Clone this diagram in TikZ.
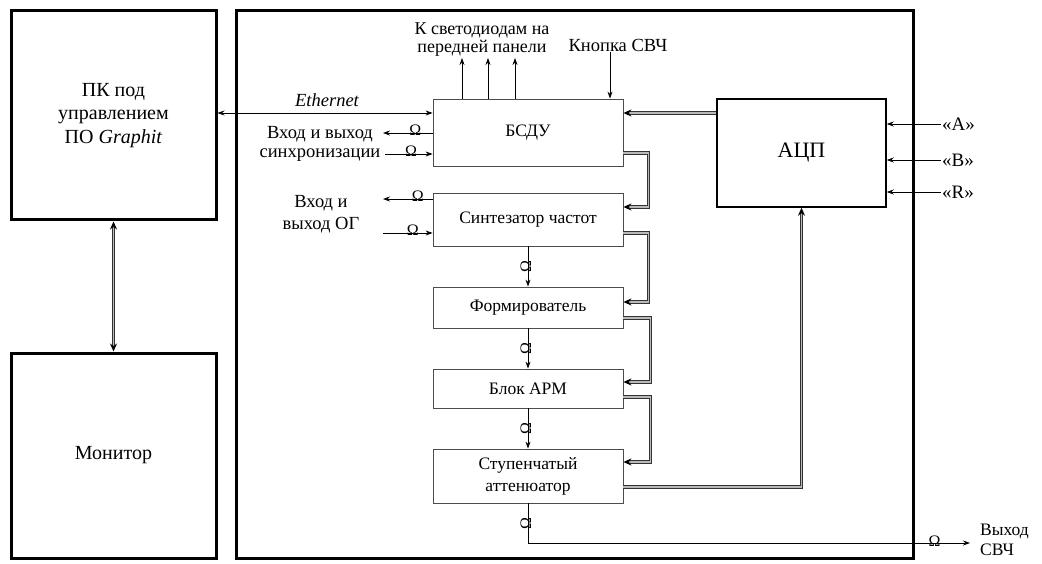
\documentclass[tikz,border=0pt]{standalone}
\usepackage{fontspec}
\setmainfont{Liberation Serif}
\usetikzlibrary{arrows.meta, decorations.markings}

\tikzset{
    blk/.style={draw=black!70, line width=0.8pt, minimum width=190pt, font=\fontsize{17.5}{22}\selectfont, align=center},
    heavy/.style={draw, line width=3pt, font=\fontsize{20}{23.5}\selectfont, align=center},
    lbl/.style={font=\fontsize{18.5}{19}\selectfont, align=center, inner sep=1pt},
    sig/.style={line width=0.8pt},
    bus/.style={draw=black!80, double=gray!55, double distance=1.8pt, line width=0.7pt},
    busend/.style={bus, shorten >=4pt, postaction={decorate, decoration={markings,
        mark=at position 1 with {\arrow[black]{Stealth[length=8pt,width=7pt]}}}}},
    busboth/.style={bus, shorten >=4pt, shorten <=4pt, postaction={decorate, decoration={markings,
        mark=at position 0 with {\arrowreversed[black]{Stealth[length=8pt,width=7pt]}},
        mark=at position 1 with {\arrow[black]{Stealth[length=8pt,width=7pt]}}}}},
    om/.style={font=\fontsize{16}{16}\selectfont, inner sep=0pt, anchor=base, yshift=-3pt},
    omv/.style={font=\fontsize{16}{16}\selectfont, inner sep=0pt, anchor=base, rotate=90, yshift=-3pt}
}

\begin{document}
\begin{tikzpicture}[x=1pt, y=-1pt, >={Stealth[length=7pt,width=5pt]}]
    \useasboundingbox (0,0) rectangle (1042,564);

    % PC, monitor and the device frame
    \node[heavy, minimum width=205pt, minimum height=209pt] (pc) at (113.5,115.5) {ПК под\\управлением\\ПО \textit{Graphit}};
    \node[heavy, minimum width=205pt, minimum height=205pt] (mon) at (113.5,455.5) {Монитор};
    \node[draw, line width=3pt, minimum width=677pt, minimum height=547pt] (dev) at (574.5,284.5) {};

    % Blocks
    \node[blk, minimum height=67pt] (bsdu) at (528,132.5) {БСДУ};
    \node[blk, minimum height=53pt] (synth) at (528,219.5) {Синтезатор частот};
    \node[blk, minimum height=41pt] (form) at (528,307.5) {Формирователь};
    \node[blk, minimum height=39pt] (apm) at (528,388.5) {Блок АРМ};
    \node[blk, minimum height=54pt] (att) at (528,476) {Ступенчатый\\аттенюатор};
    \node[draw, line width=1.5pt, minimum width=169pt, minimum height=108pt, font=\fontsize{22}{24}\selectfont] (adc) at (801.5,153) {АЦП};

    % Labels
    \node[lbl, font=\fontsize{18.5}{19}\selectfont\itshape] (eth) at (327,100) {Ethernet};
    \node[lbl] (syncl) at (320,144) {Вход и выход\\синхронизации};
    \node[lbl] (ogl) at (321,214) {Вход и\\[3pt]выход ОГ};
    \node[lbl, font=\fontsize{18}{18}\selectfont] (led) at (482,40) {К светодиодам на\\передней панели};
    \node[lbl] (btn) at (618,45) {Кнопка СВЧ};
    \node[lbl, font=\fontsize{17.5}{20}\selectfont, align=left, anchor=west] (outl) at (979,540) {Выход\\СВЧ};

    % Free ends
    \coordinate (syncout) at (383,133);
    \coordinate (syncin) at (385,154);
    \coordinate (ogout) at (383,199);
    \coordinate (ogin) at (383,233);
    \coordinate (rfout) at (970,543);

    % PC links
    \draw[busboth] (pc.south) -- (mon.north);
    \draw[sig, <->] (pc.east |- 0,113) -- (bsdu.west |- 0,113);

    % Sync and reference signals
    \draw[sig, ->] (bsdu.west |- syncout) -- node[om, pos=0.35] {Ω} (syncout);
    \draw[sig, ->] (syncin) -- node[om, pos=0.55] {Ω} (bsdu.west |- syncin);
    \draw[sig, ->] (synth.west |- ogout) -- node[om, pos=0.3] {Ω} (ogout);
    \draw[sig, ->] (ogin) -- node[om, pos=0.6] {Ω} (synth.west |- ogin);

    % LEDs and button
    \foreach \x in {462,488,515} {
        \draw[sig, ->] (bsdu.north -| \x,0) -- (led.south -| \x,0);
    }
    \draw[sig, ->] (btn.south -| 610,0) -- (bsdu.north -| 610,0);

    % Control bus
    \draw[busend] (adc.west |- 0,113) -- (bsdu.east |- 0,113);
    \draw[busend] (bsdu.east |- 0,153) -- ++(25,0) |- (synth.east |- 0,207);
    \draw[busend] (synth.east |- 0,233) -- ++(25,0) |- (form.east |- 0,302);
    \draw[busend] (form.east |- 0,318) -- ++(27,0) |- (apm.east |- 0,382);
    \draw[busend] (apm.east |- 0,397) -- ++(27,0) |- (att.east |- 0,462);
    \draw[busend] (att.east |- 0,487) -| (adc.south);

    % RF chain
    \draw[sig, ->] (synth.south) -- node[omv] {Ω} (form.north);
    \draw[sig, ->] (form.south) -- node[omv] {Ω} (apm.north);
    \draw[sig, ->] (apm.south) -- node[omv] {Ω} (att.north);
    \draw[sig, ->] (att.south) |- node[omv, pos=0.25] {Ω} node[om, pos=0.96] {Ω} (rfout);

    % ADC inputs
    \foreach \n/\y/\txt in {a/124/«A», b/160/«B», r/192/«R»} {
        \node[lbl, font=\fontsize{19}{19}\selectfont, anchor=west] (in\n) at (941,\y) {\txt};
        \draw[sig, ->] (in\n.west) -- (adc.east |- in\n.west);
    }
\end{tikzpicture}
\end{document}
